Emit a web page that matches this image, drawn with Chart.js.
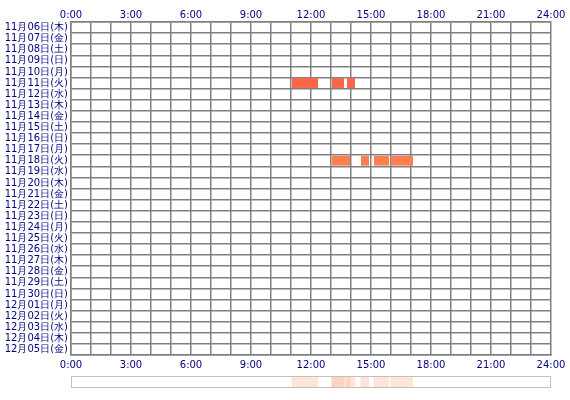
<!DOCTYPE html>
<html><head><meta charset="utf-8">
<script src="https://cdn.jsdelivr.net/npm/chart.js@4"></script>
<style>body{margin:0;background:#fff}#w{position:absolute;left:0;top:0;width:570px;height:400px}
#s{position:absolute;left:71px;top:376px;width:480px;height:12px;border:1px solid #c0c0c0;box-sizing:border-box}</style>
</head><body>
<div id="w"><canvas id="c"></canvas></div>
<div id="s"><canvas id="c2"></canvas></div>
<script>
const days=["11月06日(木)","11月07日(金)","11月08日(土)","11月09日(日)","11月10日(月)","11月11日(火)","11月12日(水)","11月13日(木)","11月14日(金)","11月15日(土)","11月16日(日)","11月17日(月)","11月18日(火)","11月19日(水)","11月20日(木)","11月21日(金)","11月22日(土)","11月23日(日)","11月24日(月)","11月25日(火)","11月26日(水)","11月27日(木)","11月28日(金)","11月29日(土)","11月30日(日)","12月01日(月)","12月02日(火)","12月03日(水)","12月04日(木)","12月05日(金)"];
const tickLabels=["0:00","3:00","6:00","9:00","12:00","15:00","18:00","21:00","24:00"];
const sessions11=[[11.05,12.35],[13.05,13.65],[13.8,14.2]];
const sessions18=[[13.05,13.95],[14.5,14.9],[15.15,15.9],[16.0,17.1]];
const color11="#ff6347", color18="#ff7f50";
const ds=[];
for(let k=0;k<4;k++){
  const d=days.map(()=>null), bg=days.map(()=>null);
  if(sessions11[k]){d[5]=sessions11[k];bg[5]=color11;}
  if(sessions18[k]){d[12]=sessions18[k];bg[12]=color18;}
  ds.push({data:d,backgroundColor:bg,grouped:false,barPercentage:1,categoryPercentage:0.88});
}
const xtick={stepSize:1,autoSkip:false,maxRotation:0,color:"#000080",font:{size:10,family:"DejaVu Sans"},callback:v=>v%3===0?tickLabels[v/3]:""};
new Chart(document.getElementById('c'),{type:'bar',data:{labels:days,datasets:ds},
options:{indexAxis:'y',responsive:true,maintainAspectRatio:false,animation:false,
layout:{padding:{right:19,top:8,bottom:31}},
plugins:{legend:{display:false},tooltip:{enabled:false}},
scales:{
 x:{type:'linear',position:'top',min:0,max:24,ticks:{...xtick,padding:1},grid:{color:"#808080",lineWidth:1.5,drawTicks:false},border:{color:"#808080",width:1.5},afterFit:s=>{s.height=14}},
 x2:{type:'linear',position:'bottom',min:0,max:24,ticks:{...xtick,padding:4},grid:{display:false,drawTicks:false},border:{color:"#808080",width:1.5},afterFit:s=>{s.height=14}},
 y:{ticks:{color:"#000080",font:{size:10,family:"DejaVu Sans"},autoSkip:false,padding:3},grid:{color:"#808080",lineWidth:1.5,drawTicks:false},border:{color:"#808080",width:1.5},afterFit:s=>{s.width=71}}
}}});
const all=sessions11.concat(sessions18);
new Chart(document.getElementById('c2'),{type:'bar',data:{labels:['a'],datasets:all.map(r=>({data:[r],backgroundColor:"rgba(255,170,130,0.3)",grouped:false,barPercentage:1,categoryPercentage:1}))},
options:{indexAxis:'y',responsive:true,maintainAspectRatio:false,animation:false,plugins:{legend:{display:false},tooltip:{enabled:false}},
scales:{x:{type:'linear',min:0,max:24,display:false},y:{display:false}}}});
</script></body></html>
